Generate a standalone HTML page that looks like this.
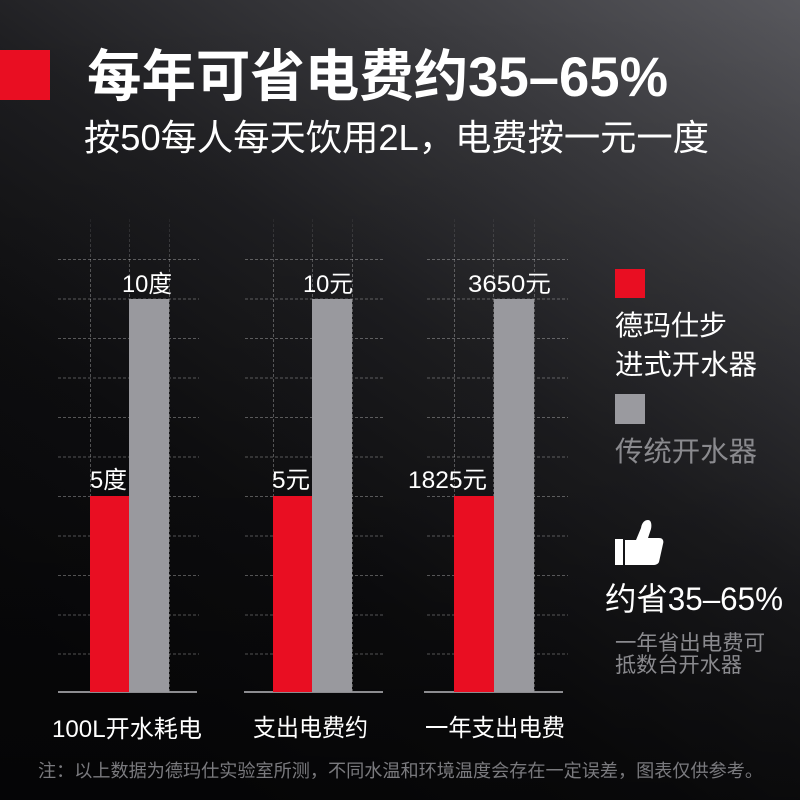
<!DOCTYPE html>
<html>
<head>
<meta charset="utf-8">
<style>
  html,body{margin:0;padding:0;}
  body{width:800px;height:800px;overflow:hidden;background:#111;}
  svg{display:block;}
  text{font-family:"Liberation Sans","Noto Sans CJK SC",sans-serif;}
</style>
</head>
<body>
<svg width="800" height="800" viewBox="0 0 800 800" xmlns="http://www.w3.org/2000/svg">
  <defs>
    <linearGradient id="bg" x1="800" y1="0" x2="250" y2="800" gradientUnits="userSpaceOnUse">
      <stop offset="0" stop-color="#58585d"/>
      <stop offset="0.25" stop-color="#3a3a3e"/>
      <stop offset="0.5" stop-color="#1f1f22"/>
      <stop offset="0.75" stop-color="#0f0f11"/>
      <stop offset="1" stop-color="#09090b"/>
    </linearGradient>
    <linearGradient id="bg2" x1="0" y1="0" x2="0" y2="800" gradientUnits="userSpaceOnUse">
      <stop offset="0" stop-color="#000" stop-opacity="0"/>
      <stop offset="0.6" stop-color="#000" stop-opacity="0.15"/>
      <stop offset="1" stop-color="#000" stop-opacity="0.45"/>
    </linearGradient>
    <linearGradient id="vfade" x1="0" y1="219" x2="0" y2="692" gradientUnits="userSpaceOnUse">
      <stop offset="0" stop-color="#ffffff" stop-opacity="0.05"/>
      <stop offset="0.12" stop-color="#ffffff" stop-opacity="0.28"/>
      <stop offset="1" stop-color="#ffffff" stop-opacity="0.28"/>
    </linearGradient>
  </defs>
  <rect x="0" y="0" width="800" height="800" fill="url(#bg)"/>
  <rect x="0" y="0" width="800" height="800" fill="url(#bg2)"/>

  <!-- Title -->
  <rect x="0" y="50" width="50" height="50" fill="#e90e22"/>
  <text x="87" y="96" font-size="56" font-weight="bold" fill="#ffffff" textLength="581" lengthAdjust="spacingAndGlyphs">每年可省电费约35–65%</text>
  <text x="84" y="150" font-size="36" fill="#ffffff" textLength="625" lengthAdjust="spacingAndGlyphs">按50每人每天饮用2L，电费按一元一度</text>

  <!-- Grid horizontal dashed lines -->
  <g stroke="#ffffff" stroke-opacity="0.3" stroke-width="1" stroke-dasharray="3 2" fill="none">
    <path d="M58 259.5H199 M58 299H199 M58 338.5H199 M58 378H199 M58 417.5H199 M58 457H199 M58 496.5H199 M58 536H199 M58 575.5H199 M58 615H199 M58 654H199"/>
    <path d="M245 259.5H383 M245 299H383 M245 338.5H383 M245 378H383 M245 417.5H383 M245 457H383 M245 496.5H383 M245 536H383 M245 575.5H383 M245 615H383 M245 654H383"/>
    <path d="M427 259.5H568 M427 299H568 M427 338.5H568 M427 378H568 M427 417.5H568 M427 457H568 M427 496.5H568 M427 536H568 M427 575.5H568 M427 615H568 M427 654H568"/>
  </g>
  <!-- Grid vertical dashed lines -->
  <g stroke="url(#vfade)" stroke-width="1" stroke-dasharray="3 2" fill="none">
    <path d="M90.5 219V692 M129.5 219V692 M169.5 219V692"/>
    <path d="M273.5 219V692 M312.5 219V692 M352.5 219V692"/>
    <path d="M454.5 219V692 M493.5 219V692 M534.5 219V692"/>
  </g>

  <!-- Baselines -->
  <g stroke="#8c8c90" stroke-width="2">
    <path d="M58 692H197 M244 692H383 M424 692H563"/>
  </g>

  <!-- Bars -->
  <rect x="90" y="496" width="39" height="196" fill="#e90e22"/>
  <rect x="129" y="299" width="40" height="393" fill="#99999e"/>
  <rect x="273" y="496" width="39" height="196" fill="#e90e22"/>
  <rect x="312" y="299" width="40" height="393" fill="#99999e"/>
  <rect x="454" y="496" width="40" height="196" fill="#e90e22"/>
  <rect x="494" y="299" width="40" height="393" fill="#99999e"/>

  <!-- Bar value labels -->
  <g font-size="24" fill="#ffffff">
    <text x="122" y="292" textLength="50" lengthAdjust="spacingAndGlyphs">10度</text>
    <text x="303" y="292" textLength="50" lengthAdjust="spacingAndGlyphs">10元</text>
    <text x="468" y="292" textLength="83" lengthAdjust="spacingAndGlyphs">3650元</text>
    <text x="90" y="488" textLength="37" lengthAdjust="spacingAndGlyphs">5度</text>
    <text x="272" y="488" textLength="38" lengthAdjust="spacingAndGlyphs">5元</text>
    <text x="408" y="488" textLength="79" lengthAdjust="spacingAndGlyphs">1825元</text>
  </g>

  <!-- Category labels -->
  <g font-size="24" fill="#ffffff">
    <text x="52" y="737" textLength="150" lengthAdjust="spacingAndGlyphs">100L开水耗电</text>
    <text x="253" y="736" textLength="115" lengthAdjust="spacingAndGlyphs">支出电费约</text>
    <text x="425" y="736" textLength="140" lengthAdjust="spacingAndGlyphs">一年支出电费</text>
  </g>

  <!-- Legend -->
  <rect x="615" y="269" width="30" height="29" fill="#e90e22"/>
  <text x="615" y="335" font-size="28" fill="#ffffff" textLength="112" lengthAdjust="spacingAndGlyphs">德玛仕步</text>
  <text x="615" y="374" font-size="28" fill="#ffffff" textLength="142" lengthAdjust="spacingAndGlyphs">进式开水器</text>
  <rect x="615" y="394" width="30" height="30" fill="#9a9a9f"/>
  <text x="615" y="461" font-size="28" fill="#8a8a8e" textLength="142" lengthAdjust="spacingAndGlyphs">传统开水器</text>

  <!-- Thumb icon -->
  <rect x="615" y="539" width="8" height="26" fill="#ffffff"/>
  <path d="M625 540 L636 540 L641 528 C642 522 645 520 648 520 C651 520 652 524 651 529 L648 538 L659 538 C663 538 664 541 663 544 L659 562 C658 564 656 565 653 565 L625 565 Z" fill="#ffffff"/>

  <text x="605" y="610" font-size="32" fill="#ffffff" textLength="178" lengthAdjust="spacingAndGlyphs">约省35–65%</text>
  <text x="615" y="650" font-size="21" fill="#8a8a8e" textLength="150" lengthAdjust="spacingAndGlyphs">一年省出电费可</text>
  <text x="615" y="672" font-size="21" fill="#8a8a8e" textLength="127" lengthAdjust="spacingAndGlyphs">抵数台开水器</text>

  <!-- Footnote -->
  <text x="38" y="777" font-size="18" fill="#7a7a7e" textLength="725" lengthAdjust="spacingAndGlyphs">注：以上数据为德玛仕实验室所测，不同水温和环境温度会存在一定误差，图表仅供参考。</text>
</svg>
</body>
</html>
